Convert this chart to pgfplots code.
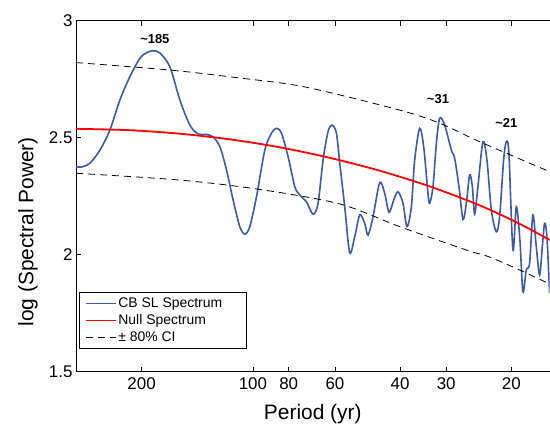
\documentclass[border=0pt]{standalone}
\usepackage{fontspec}
\setmainfont{Liberation Sans}
\usepackage{pgfplots}
\pgfplotsset{compat=1.18}
\definecolor{cbblue}{RGB}{62,88,170}
\begin{document}
\begin{tikzpicture}
\begin{axis}[
  scale only axis,
  width=474bp, height=351.3bp,
  xmin=1.1975, xmax=2.4786, x dir=reverse,
  ymin=1.5, ymax=3,
  axis x line*=box, axis y line*=left,
  axis line style={black, line width=0.8bp},
  xtick={2.30103,2,1.90309,1.77815,1.60206,1.47712,1.30103},
  xticklabels={200,100,80,60,40,30,20},
  ytick={1.5,2,2.5,3}, yticklabels={1.5,2,2.5,3},
  tick align=inside, major tick length=5bp,
  tick style={black, line width=0.6bp},
  ticklabel style={font=\fontsize{17}{20}\selectfont},
  xticklabel style={yshift=-2bp},
  xlabel={Period (yr)}, ylabel={log (Spectral Power)},
  every axis x label/.style={at={(axis description cs:0.5,-0.1196)}, anchor=center, font=\fontsize{21}{24}\selectfont},
  every axis y label/.style={at={(axis description cs:-0.1013,0.3985)}, rotate=90, anchor=center, font=\fontsize{21}{24}\selectfont},
  legend style={at={(axis description cs:0.0063,0.0655)}, anchor=south west, draw=black,
    font=\fontsize{14}{16}\selectfont, nodes={inner sep=1.5bp}, row sep=2.5bp, inner xsep=6bp, inner ysep=4bp},
  legend cell align=left,
  legend image code/.code={\draw[#1] (0bp,0bp) -- (30bp,0bp);},
]
\addplot[cbblue, line width=1.6bp, smooth] coordinates {
(2.4786,2.376) (2.4624,2.375) (2.4408,2.391) (2.4137,2.447) (2.3867,2.533)
(2.3597,2.661) (2.3326,2.761) (2.3056,2.839) (2.2867,2.864) (2.2697,2.871)
(2.2516,2.862) (2.2245,2.803) (2.1975,2.661) (2.1705,2.554) (2.1481,2.516)
(2.1254,2.514) (2.1075,2.503) (2.0894,2.462) (2.0713,2.362) (2.0535,2.234)
(2.0354,2.120) (2.0218,2.088) (2.0083,2.120) (1.9902,2.248) (1.9678,2.447)
(1.9497,2.519) (1.9362,2.540) (1.9227,2.519) (1.9048,2.419) (1.8867,2.291)
(1.8732,2.255) (1.8551,2.226) (1.8372,2.173) (1.8237,2.220) (1.8102,2.405)
(1.7967,2.526) (1.7859,2.554) (1.7740,2.519) (1.7651,2.392) (1.7516,2.205)
(1.7381,2.009) (1.7245,2.077) (1.7110,2.170) (1.6975,2.134) (1.6886,2.084)
(1.6751,2.162) (1.6570,2.308) (1.6435,2.262) (1.6318,2.181) (1.6191,2.234)
(1.6075,2.269) (1.5940,2.220) (1.5832,2.120) (1.5713,2.205) (1.5624,2.405)
(1.5489,2.540) (1.5381,2.462) (1.5264,2.262) (1.5218,2.220) (1.5129,2.291)
(1.5037,2.476) (1.4948,2.583) (1.4813,2.554) (1.4632,2.447) (1.4543,2.412)
(1.4427,2.291) (1.4318,2.151) (1.4226,2.220) (1.4137,2.341) (1.4064,2.291)
(1.4002,2.174) (1.3913,2.291) (1.3778,2.483) (1.3670,2.405) (1.3551,2.191)
(1.3416,2.098) (1.3327,2.162) (1.3218,2.405) (1.3145,2.483) (1.3075,2.433)
(1.2967,2.020) (1.2875,2.205) (1.2778,2.063) (1.2697,1.842) (1.2605,1.935)
(1.2516,1.963) (1.2426,2.170) (1.2335,2.034) (1.2245,1.913) (1.2172,2.034)
(1.2110,2.134) (1.2048,2.077) (1.1975,1.835)
};
\addlegendentry{\makebox[120bp][l]{CB SL Spectrum}}
\addplot[red, line width=1.8bp, smooth] coordinates {
(2.4786,2.538) (2.3326,2.532) (2.1975,2.517) (2.0624,2.493) (1.9272,2.459)
(1.7921,2.414) (1.6570,2.359) (1.5218,2.292) (1.3867,2.211) (1.2786,2.132)
(1.1975,2.063)
};
\addlegendentry{Null Spectrum}
\addplot[black, line width=0.8bp, dash pattern=on 7bp off 5bp, smooth] coordinates {
(2.4786,2.821) (2.2245,2.789) (2.0354,2.755) (1.8597,2.717) (1.6030,2.618)
(1.4948,2.562) (1.3867,2.483) (1.1975,2.355)
};
\addlegendentry{± 80\% CI}
\addplot[black, line width=0.8bp, dash pattern=on 7bp off 5bp, smooth, forget plot] coordinates {
(2.4786,2.348) (2.1975,2.319) (1.9813,2.279) (1.7651,2.217) (1.6030,2.120)
(1.4226,2.020) (1.3597,1.990) (1.2786,1.935) (1.1975,1.875)
};
\node[font=\bfseries\fontsize{13}{15}\selectfont] at (axis cs:2.2651,2.920) {\textasciitilde185};
\node[font=\bfseries\fontsize{13}{15}\selectfont] at (axis cs:1.4994,2.664) {\textasciitilde31};
\node[font=\bfseries\fontsize{13}{15}\selectfont] at (axis cs:1.3145,2.564) {\textasciitilde21};
\end{axis}
\path ([shift={(-76bp,-53bp)}]current axis.south west) rectangle ([shift={(0bp,20.7bp)}]current axis.north east);
\end{tikzpicture}
\end{document}
